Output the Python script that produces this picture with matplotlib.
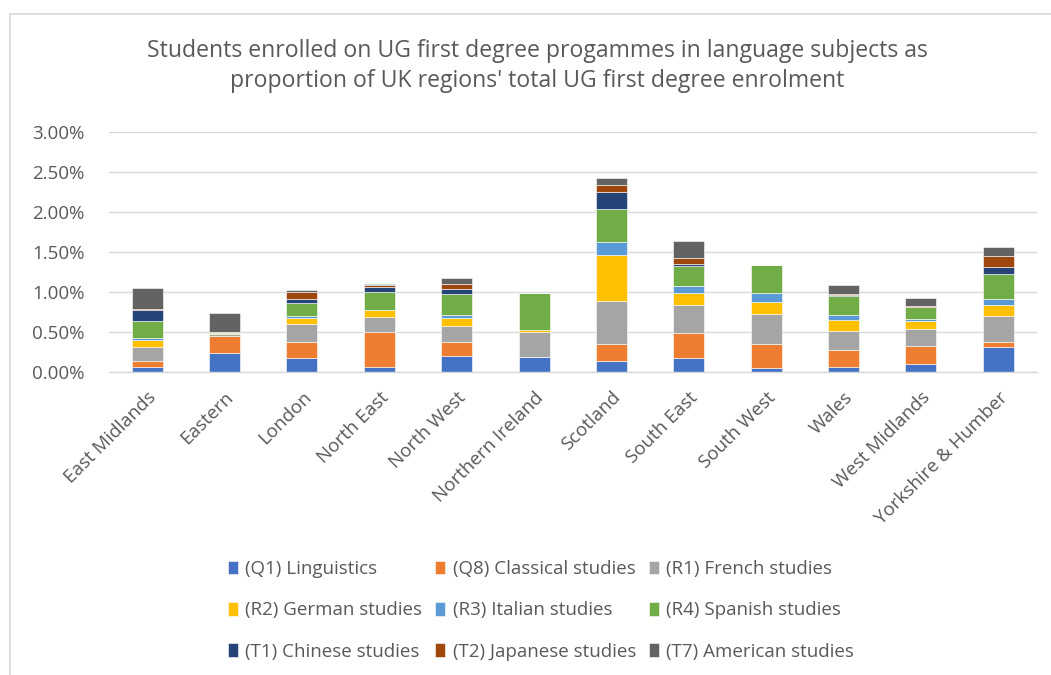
import matplotlib
matplotlib.use("Agg")
import matplotlib.pyplot as plt
from matplotlib.patches import Rectangle
from matplotlib.ticker import FuncFormatter
import numpy as np

plt.rcParams['font.family'] = ['Open Sans', 'DejaVu Sans']

regions = ["East Midlands", "Eastern", "London", "North East", "North West",
           "Northern Ireland", "Scotland", "South East", "South West", "Wales",
           "West Midlands", "Yorkshire & Humber"]

series_names = ["(Q1) Linguistics", "(Q8) Classical studies", "(R1) French studies",
                "(R2) German studies", "(R3) Italian studies", "(R4) Spanish studies",
                "(T1) Chinese studies", "(T2) Japanese studies", "(T7) American studies"]

# values in percent
q1 = [0.062, 0.229, 0.167, 0.062, 0.200, 0.179, 0.138, 0.167, 0.046, 0.054, 0.096, 0.304]
q8 = [0.075, 0.217, 0.200, 0.438, 0.167, 0.005, 0.208, 0.312, 0.304, 0.212, 0.229, 0.062]
r1 = [0.175, 0.030, 0.225, 0.188, 0.208, 0.312, 0.533, 0.358, 0.375, 0.242, 0.204, 0.325]
r2 = [0.085, 0.005, 0.083, 0.083, 0.096, 0.021, 0.575, 0.150, 0.150, 0.138, 0.104, 0.142]
r3 = [0.025, 0.000, 0.021, 0.005, 0.042, 0.000, 0.171, 0.083, 0.104, 0.062, 0.021, 0.071]
r4 = [0.210, 0.010, 0.162, 0.225, 0.262, 0.467, 0.408, 0.250, 0.354, 0.233, 0.154, 0.312]
t1 = [0.145, 0.000, 0.046, 0.054, 0.054, 0.000, 0.212, 0.021, 0.000, 0.015, 0.005, 0.096]
t2 = [0.005, 0.000, 0.092, 0.030, 0.063, 0.000, 0.088, 0.075, 0.000, 0.020, 0.008, 0.133]
t7 = [0.270, 0.237, 0.021, 0.012, 0.083, 0.000, 0.083, 0.221, 0.000, 0.108, 0.096, 0.108]

colors = ["#4472C4", "#ED7D31", "#A5A5A5", "#FFC000", "#5B9BD5",
          "#70AD47", "#264478", "#9E480E", "#636363"]

series = [q1, q8, r1, r2, r3, r4, t1, t2, t7]

W, H = 1051, 675
fig = plt.figure(figsize=(W / 100, H / 100), dpi=100)

# chart border (Excel chart area)
fig.patches.append(Rectangle((10 / W, -0.1), 1.2, (H - 14) / H + 0.1,
                             transform=fig.transFigure, fill=False,
                             edgecolor="#D9D9D9", linewidth=1.2))

ax = fig.add_axes([108.5 / W, (H - 371.7) / H, 928.5 / W, 240 / H])

x = np.arange(len(regions))
bottom = np.zeros(len(regions))
handles = []
for name, vals, c in zip(series_names, series, colors):
    v = np.array(vals) / 100.0
    b = ax.bar(x, v, width=0.4, bottom=bottom, color=c, label=name,
               edgecolor="white", linewidth=0.4)
    handles.append(b)
    bottom += v

ax.set_xlim(-0.5, len(regions) - 0.5)
ax.set_ylim(0, 0.03)
ax.set_yticks(np.arange(0, 0.0301, 0.005))
ax.yaxis.set_major_formatter(FuncFormatter(lambda v, p: f"{v * 100:.2f}%"))
ax.grid(axis="y", color="#D9D9D9", linewidth=1.0)
ax.set_axisbelow(True)
for s in ["top", "right", "left"]:
    ax.spines[s].set_visible(False)
ax.spines["bottom"].set_color("#D9D9D9")
ax.spines["bottom"].set_linewidth(1.0)
ax.tick_params(axis="both", length=0, colors="#595959", labelsize=13.5)
ax.tick_params(axis="y", pad=17)
ax.set_xticks(x)
ax.set_xticklabels(regions, rotation=45, ha="right", rotation_mode="anchor")
ax.tick_params(axis="x", pad=12)

fig.text(537 / W, 1 - 66 / H,
         "Students enrolled on UG first degree progammes in language subjects as\n"
         "proportion of UK regions' total UG first degree enrolment",
         ha="center", va="center", fontsize=16.6, color="#595959", linespacing=1.3)

order = [0, 3, 6, 1, 4, 7, 2, 5, 8]
leg = fig.legend([handles[i] for i in order], [series_names[i] for i in order],
                 ncol=3, loc="upper left", bbox_to_anchor=(228 / W, 1 - 560 / H),
                 frameon=False, fontsize=13.5, handlelength=0.52, handleheight=0.75,
                 handletextpad=0.4, labelspacing=1.25, columnspacing=0.7,
                 borderaxespad=0, borderpad=0)
for t in leg.get_texts():
    t.set_color("#595959")

fig.savefig("out.png", dpi=100)
